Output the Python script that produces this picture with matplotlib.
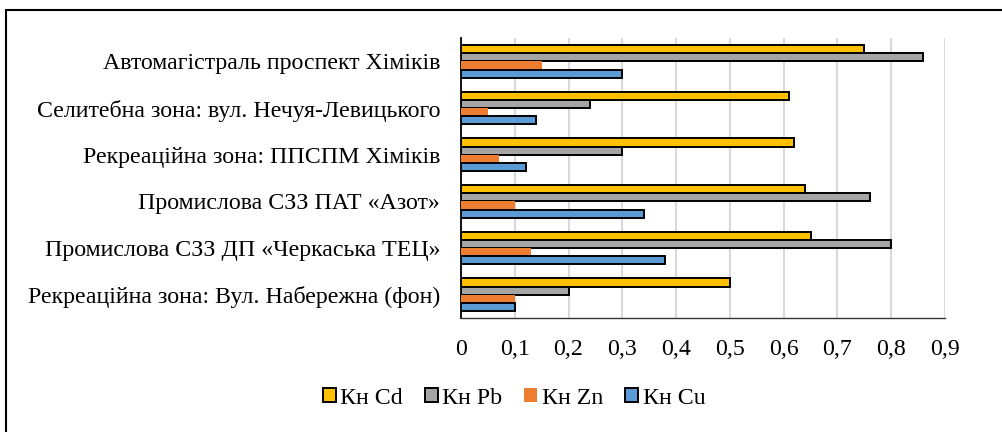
import matplotlib
matplotlib.use("Agg")
import matplotlib.pyplot as plt
import numpy as np
from matplotlib.patches import Patch, Rectangle

# categories listed bottom-to-top (as drawn)
categories = [
    "Рекреаційна зона: Вул. Набережна (фон)",
    "Промислова СЗЗ ДП «Черкаська ТЕЦ»",
    "Промислова СЗЗ ПАТ «Азот»",
    "Рекреаційна зона: ППСПМ Хіміків",
    "Селитебна зона: вул. Нечуя-Левицького",
    "Автомагістраль проспект Хіміків",
]
kn_cd = [0.50, 0.65, 0.64, 0.62, 0.61, 0.75]
kn_pb = [0.20, 0.80, 0.76, 0.30, 0.24, 0.86]
kn_zn = [0.10, 0.13, 0.10, 0.07, 0.05, 0.15]
kn_cu = [0.10, 0.38, 0.34, 0.12, 0.14, 0.30]
series_names = ["Кн Cd", "Кн Pb", "Кн Zn", "Кн Cu"]
xticks = [0, 0.1, 0.2, 0.3, 0.4, 0.5, 0.6, 0.7, 0.8, 0.9]

colors = ["#FFC000", "#A5A5A5", "#ED7D31", "#5B9BD5"]
edges = ["black", "black", "none", "black"]

plt.rcParams["font.family"] = ["Liberation Serif", "DejaVu Serif"]
FS = 17.2

fig = plt.figure(figsize=(10.03, 4.32), dpi=100)
W, H = 1003, 432
ax = fig.add_axes([461 / W, 1 - 318 / H, (945 - 461) / W, (318 - 38) / H])

y = np.arange(len(categories))
h = 0.175
# top to bottom within a group: Cd, Pb, Zn, Cu
offsets = [1.5 * h, 0.5 * h, -0.5 * h, -1.5 * h]
for vals, off, c, e in zip([kn_cd, kn_pb, kn_zn, kn_cu], offsets, colors, edges):
    ax.barh(y + off, vals, height=h, color=c, edgecolor=e, linewidth=1.4, zorder=3)

ax.set_xlim(0, 0.9)
ax.set_ylim(-0.5, len(categories) - 0.5)
ax.set_xticks(xticks)
ax.set_xticklabels([f"{t:g}".replace(".", ",") for t in xticks], fontsize=FS)
ax.set_yticks(y)
ax.set_yticklabels(categories, fontsize=FS)
ax.tick_params(length=0)
ax.tick_params(axis="x", pad=15)
ax.tick_params(axis="y", pad=15)
ax.grid(axis="x", color="#d9d9d9", linewidth=1.5, zorder=0)
for s in ["top", "right"]:
    ax.spines[s].set_visible(False)
ax.spines["left"].set_color("black")
ax.spines["left"].set_linewidth(1.3)
ax.spines["bottom"].set_color("#333333")
ax.spines["bottom"].set_linewidth(1.0)

handles = [Patch(facecolor=c, edgecolor=e, linewidth=1.4) for c, e in zip(colors, edges)]
fig.legend(handles, series_names, loc="center", bbox_to_anchor=(514 / W, 1 - 398 / H),
           ncol=4, frameon=False, fontsize=FS, handlelength=0.55, handleheight=0.55,
           handletextpad=0.2, columnspacing=0.9)

# outer chart frame (right and bottom edges fall outside the image)
fig.patches.append(Rectangle((6 / W, -0.1), 1.2, 1 - 10 / H + 0.1,
                             transform=fig.transFigure, fill=False,
                             edgecolor="black", linewidth=1.5))

fig.savefig("out.png", dpi=100)
